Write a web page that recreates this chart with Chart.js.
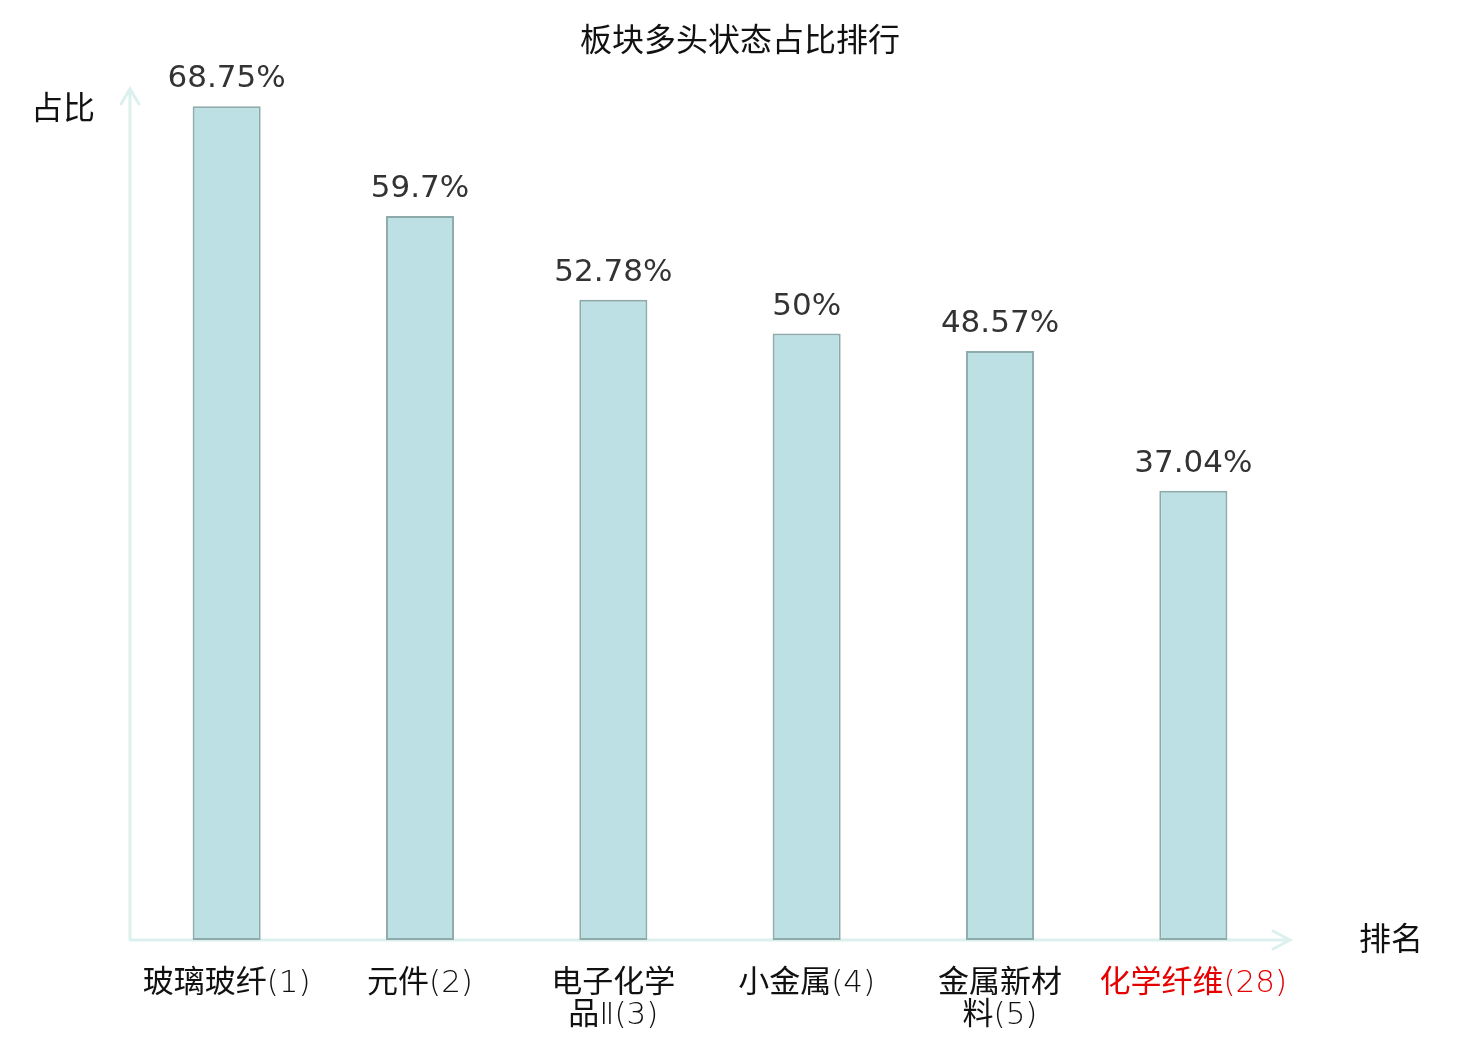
<!DOCTYPE html>
<html>
<head>
<meta charset="utf-8">
<script src="https://cdn.jsdelivr.net/npm/chart.js@4"></script>
<style>
  html, body { margin: 0; padding: 0; background: #fff; }
  #wrap { width: 1480px; height: 1040px; position: relative; }
</style>
</head>
<body>
<div id="wrap"><canvas id="sectorChart"></canvas></div>
<script>
// chart data
const categories = ['玻璃玻纤(1)', '元件(2)', '电子化学品Ⅱ(3)', '小金属(4)', '金属新材料(5)', '化学纤维(28)'];
const tickLabels = [['玻璃玻纤(1)'], ['元件(2)'], ['电子化学', '品Ⅱ(3)'], ['小金属(4)'], ['金属新材', '料(5)'], ['化学纤维(28)']];
const shareValues = [68.75, 59.7, 52.78, 50, 48.57, 37.04];
const highlightIndex = 5;

const FONT = '"DejaVu Sans", "Noto Sans CJK SC", sans-serif';
// thin latin glyphs, regular CJK glyphs for the category names
const TICK_FONT = '"DejaVu Sans ExtraLight", "DejaVu Sans Light", "Noto Sans CJK SC", sans-serif';
const axisColor = '#dcf1ee';

// axis lines with arrows, value labels, title and axis names
const decorPlugin = {
  id: 'decor',
  beforeDatasetsDraw(chart) {
    const { ctx, chartArea: a } = chart;
    ctx.save();
    ctx.strokeStyle = axisColor;
    ctx.lineWidth = 3;
    ctx.lineCap = 'round';
    ctx.beginPath();
    ctx.moveTo(a.left, a.bottom);
    ctx.lineTo(a.left, a.top - 2);
    ctx.moveTo(a.left - 9, a.top + 13);
    ctx.lineTo(a.left, a.top - 2);
    ctx.lineTo(a.left + 9, a.top + 13);
    ctx.moveTo(a.left, a.bottom);
    ctx.lineTo(a.right, a.bottom);
    ctx.moveTo(a.right - 17, a.bottom - 9);
    ctx.lineTo(a.right, a.bottom);
    ctx.lineTo(a.right - 17, a.bottom + 9);
    ctx.stroke();
    ctx.restore();
  },
  afterDatasetsDraw(chart) {
    const { ctx, chartArea: a } = chart;
    ctx.save();
    ctx.font = '31px ' + FONT;
    ctx.fillStyle = '#333';
    ctx.textAlign = 'center';
    ctx.textBaseline = 'alphabetic';
    chart.getDatasetMeta(0).data.forEach((bar, i) => {
      ctx.fillText(shareValues[i] + '%', bar.x, bar.y - 19);
    });

    ctx.font = '32px ' + FONT;
    ctx.fillStyle = '#111';
    ctx.textBaseline = 'middle';
    ctx.fillText('板块多头状态占比排行', chart.width / 2, 43);
    ctx.fillText('占比', 63, 111);
    ctx.fillText('排名', 1391, a.bottom + 2);
    ctx.restore();
  }
};

const ctx = document.getElementById('sectorChart').getContext('2d');
const sectorChart = new Chart(ctx, {
  type: 'bar',
  data: {
    labels: categories,
    datasets: [{
      data: shareValues,
      backgroundColor: '#bce0e3',
      borderColor: '#8eaaab',
      borderWidth: 2,
      borderSkipped: false,
      categoryPercentage: 1,
      barPercentage: 0.352
    }]
  },
  plugins: [decorPlugin],
  options: {
    responsive: true,
    maintainAspectRatio: false,
    animation: false,
    devicePixelRatio: 1,
    layout: { padding: { left: 130, right: 190, top: 91, bottom: 0 } },
    plugins: {
      legend: { display: false },
      title: { display: false },
      tooltip: { enabled: false }
    },
    scales: {
      x: {
        grid: { display: false, drawTicks: false },
        border: { display: false },
        afterFit: (scale) => { scale.height = 100; },
        ticks: {
          padding: 28,
          maxRotation: 0,
          autoSkip: false,
          font: { family: TICK_FONT, size: 31, lineHeight: 1.03 },
          color: (c) => c.index === highlightIndex ? '#e60000' : '#111',
          callback: (value, index) => tickLabels[index]
        }
      },
      y: {
        display: false,
        min: 0,
        max: 70
      }
    }
  }
});
</script>
</body>
</html>
